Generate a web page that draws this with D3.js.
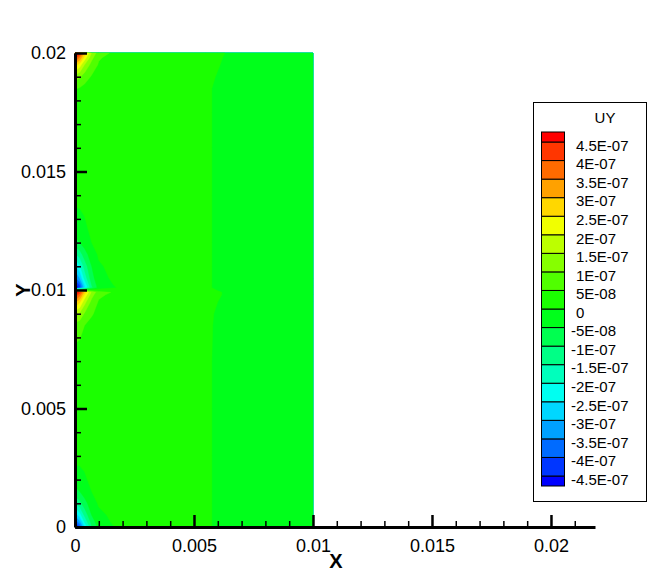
<!DOCTYPE html>
<html><head><meta charset="utf-8">
<script src="https://cdn.jsdelivr.net/npm/d3@7"></script>
<style>
body{margin:0;background:#fff}
svg{display:block}
text{font-family:"Liberation Sans",Arial,sans-serif;fill:#000}
</style>
</head><body>
<svg id="chart" width="665" height="578"></svg>
<script>
// ---------- data ----------
// mesh node positions (non-uniform, refined near the loaded edge)
const xNodes = [0, 0.0001, 0.0002, 0.0004, 0.0007, 0.001, 0.002, 0.003, 0.004, 0.005, 0.0055, 0.006, 0.0065, 0.007, 0.008, 0.009, 0.01];
const yNodes = [0, 0.0002, 0.0005, 0.001, 0.0015, 0.003, 0.005, 0.007, 0.0085, 0.009, 0.0095, 0.0098, 0.0099,
                0.0101, 0.0102, 0.0105, 0.011, 0.0115, 0.012, 0.014, 0.016, 0.0175, 0.0185, 0.019, 0.0195, 0.0198, 0.02];
// UY values in units of 1e-7, one row per yNode (from y=0 upward), one column per xNode
const valueUnit = 1e-7;
const uyRows = [
  [-4.8, -4.55, -4.05, -2.55, -1.05, -0.3, 0.15, 0.2, 0.2, 0.2, 0.2, -0.2, -0.2, -0.2, -0.2, -0.2, -0.2],
  [-3.8, -3.6, -3.2, -2.0, -0.8, -0.2, 0.2, 0.2, 0.2, 0.2, 0.2, -0.2, -0.2, -0.2, -0.2, -0.2, -0.2],
  [-2.7, -2.55, -2.25, -1.4, -0.5, -0.1, 0.2, 0.2, 0.2, 0.2, 0.2, -0.2, -0.2, -0.2, -0.2, -0.2, -0.2],
  [-1.4, -1.3, -1.15, -0.7, -0.2, 0.05, 0.2, 0.2, 0.2, 0.2, 0.2, -0.2, -0.2, -0.2, -0.2, -0.2, -0.2],
  [-0.6, -0.55, -0.5, -0.25, 0.0, 0.15, 0.2, 0.2, 0.2, 0.2, 0.2, -0.2, -0.2, -0.2, -0.2, -0.2, -0.2],
  [0.2, 0.2, 0.2, 0.2, 0.2, 0.2, 0.2, 0.2, 0.2, 0.2, 0.2, -0.2, -0.2, -0.2, -0.2, -0.2, -0.2],
  [0.2, 0.2, 0.2, 0.2, 0.2, 0.2, 0.2, 0.2, 0.2, 0.2, 0.2, -0.2, -0.2, -0.2, -0.2, -0.2, -0.2],
  [0.2, 0.2, 0.2, 0.2, 0.2, 0.2, 0.2, 0.2, 0.2, 0.2, 0.2, -0.2, -0.2, -0.2, -0.2, -0.2, -0.2],
  [0.8, 0.75, 0.7, 0.5, 0.35, 0.25, 0.2, 0.2, 0.2, 0.2, 0.2, -0.15, -0.2, -0.2, -0.2, -0.2, -0.2],
  [1.6, 1.5, 1.4, 0.95, 0.55, 0.35, 0.2, 0.2, 0.2, 0.2, 0.2, -0.1, -0.2, -0.2, -0.2, -0.2, -0.2],
  [3.0, 2.85, 2.6, 1.7, 0.85, 0.45, 0.2, 0.2, 0.2, 0.2, 0.2, 0.0, -0.2, -0.2, -0.2, -0.2, -0.2],
  [4.3, 4.1, 3.7, 2.45, 1.2, 0.6, 0.25, 0.2, 0.2, 0.2, 0.2, 0.1, -0.2, -0.2, -0.2, -0.2, -0.2],
  [5.0, 4.75, 4.3, 2.85, 1.4, 0.7, 0.3, 0.2, 0.2, 0.2, 0.2, 0.1, -0.2, -0.2, -0.2, -0.2, -0.2],
  [-5.0, -4.75, -4.25, -2.65, -1.1, -0.3, 0.1, 0.2, 0.2, 0.2, 0.2, -0.2, -0.2, -0.2, -0.2, -0.2, -0.2],
  [-4.7, -4.45, -4.0, -2.5, -1.0, -0.25, 0.15, 0.2, 0.2, 0.2, 0.2, -0.2, -0.2, -0.2, -0.2, -0.2, -0.2],
  [-3.5, -3.3, -3.0, -1.85, -0.7, -0.15, 0.2, 0.2, 0.2, 0.2, 0.2, -0.2, -0.2, -0.2, -0.2, -0.2, -0.2],
  [-2.5, -2.35, -2.1, -1.3, -0.5, -0.05, 0.2, 0.2, 0.2, 0.2, 0.2, -0.2, -0.2, -0.2, -0.2, -0.2, -0.2],
  [-1.5, -1.4, -1.25, -0.75, -0.2, 0.05, 0.2, 0.2, 0.2, 0.2, 0.2, -0.2, -0.2, -0.2, -0.2, -0.2, -0.2],
  [-0.6, -0.55, -0.5, -0.25, 0.0, 0.15, 0.2, 0.2, 0.2, 0.2, 0.2, -0.2, -0.2, -0.2, -0.2, -0.2, -0.2],
  [0.2, 0.2, 0.2, 0.2, 0.2, 0.2, 0.2, 0.2, 0.2, 0.2, 0.2, -0.2, -0.2, -0.2, -0.2, -0.2, -0.2],
  [0.2, 0.2, 0.2, 0.2, 0.2, 0.2, 0.2, 0.2, 0.2, 0.2, 0.2, -0.2, -0.2, -0.2, -0.2, -0.2, -0.2],
  [0.2, 0.2, 0.2, 0.2, 0.2, 0.2, 0.2, 0.2, 0.2, 0.2, 0.2, -0.2, -0.2, -0.2, -0.2, -0.2, -0.2],
  [0.5, 0.5, 0.45, 0.35, 0.25, 0.2, 0.2, 0.2, 0.2, 0.2, 0.2, -0.2, -0.2, -0.2, -0.2, -0.2, -0.2],
  [1.2, 1.15, 1.05, 0.75, 0.45, 0.3, 0.2, 0.2, 0.2, 0.2, 0.2, -0.05, -0.2, -0.2, -0.2, -0.2, -0.2],
  [2.6, 2.5, 2.25, 1.5, 0.8, 0.45, 0.2, 0.2, 0.2, 0.2, 0.2, 0.05, -0.2, -0.2, -0.2, -0.2, -0.2],
  [4.0, 3.8, 3.4, 2.3, 1.15, 0.55, 0.2, 0.2, 0.2, 0.2, 0.2, 0.1, -0.15, -0.2, -0.2, -0.2, -0.2],
  [5.2, 4.95, 4.45, 2.95, 1.45, 0.7, 0.25, 0.2, 0.2, 0.2, 0.2, 0.15, -0.1, -0.2, -0.2, -0.2, -0.2]
];
// contour levels (units of 1e-7) and their legend labels, bottom to top
const levels = [-4.5, -4, -3.5, -3, -2.5, -2, -1.5, -1, -0.5, 0, 0.5, 1, 1.5, 2, 2.5, 3, 3.5, 4, 4.5];
const levelLabels = ["-4.5E-07", "-4E-07", "-3.5E-07", "-3E-07", "-2.5E-07", "-2E-07", "-1.5E-07", "-1E-07", "-5E-08",
                     "0", "5E-08", "1E-07", "1.5E-07", "2E-07", "2.5E-07", "3E-07", "3.5E-07", "4E-07", "4.5E-07"];
// band colours, bottom (below lowest level) to top (above highest level)
const bandColors = ["#0000ff", "#0036ff", "#006bff", "#00a1ff", "#00d7ff", "#00fff1", "#00ffbc", "#00ff86", "#00ff50", "#00ff1b",
                    "#1bff00", "#50ff00", "#86ff00", "#bcff00", "#f1ff00", "#ffd700", "#ffa100", "#ff6b00", "#ff3600", "#ff0000"];
const xTicks = [0, 0.005, 0.01, 0.015, 0.02];
const xTickLabels = ["0", "0.005", "0.01", "0.015", "0.02"];
const yTicks = [0, 0.005, 0.01, 0.015, 0.02];
const yTickLabels = ["0", "0.005", "0.01", "0.015", "0.02"];
const xMinorTicks = d3.range(0, 22).map(i => i * 0.001).filter(v => !xTicks.some(t => Math.abs(t - v) < 1e-9));
const yMinorTicks = d3.range(0, 21).map(i => i * 0.001).filter(v => !yTicks.some(t => Math.abs(t - v) < 1e-9));
const legendTitle = "UY";

// ---------- drawing ----------
const svg = d3.select("#chart");
const x = d3.scaleLinear().domain([0, 0.02185]).range([75, 595]);
const y = d3.scaleLinear().domain([0, 0.02]).range([527, 53]);

const nx = xNodes.length, ny = yNodes.length;
const values = uyRows.flat().map(v => v * valueUnit);
const minVal = d3.min(values);
const thresholds = [minVal - 1].concat(levels.map(l => l * valueUnit));

function nodeAt(nodes, c) {
  const n = nodes.length;
  const u = Math.max(0, Math.min(n - 1, c - 0.5));
  const i = Math.min(Math.floor(u), n - 2);
  const f = u - i;
  return nodes[i] + f * (nodes[i + 1] - nodes[i]);
}
const proj = d3.geoTransform({
  point: function(px, py) { this.stream.point(x(nodeAt(xNodes, px)), y(nodeAt(yNodes, py))); }
});
const path = d3.geoPath(proj);
const contours = d3.contours().size([nx, ny]).thresholds(thresholds)(values);

svg.append("g").selectAll("path").data(contours).join("path")
  .attr("d", path)
  .attr("fill", (d, i) => bandColors[i])
  .attr("stroke", (d, i) => bandColors[i])
  .attr("stroke-width", 0.4);

// axes
const fontSize = 18;
const xAxisG = svg.append("g").attr("transform", `translate(0,${y(0)})`);
xAxisG.call(d3.axisBottom(x).tickValues(xMinorTicks).tickSize(-6).tickSizeOuter(0).tickFormat(""));
xAxisG.select(".domain").remove();
xAxisG.selectAll("line").attr("stroke", "#000").attr("stroke-width", 1.5);
const xMaj = svg.append("g").attr("transform", `translate(0,${y(0)})`)
  .call(d3.axisBottom(x).tickValues(xTicks).tickSize(-12).tickSizeOuter(0).tickPadding(12)
        .tickFormat((d, i) => xTickLabels[i]));
xMaj.select(".domain").attr("stroke", "#000").attr("stroke-width", 3);
xMaj.selectAll("line").attr("stroke", "#000").attr("stroke-width", 2.5);
xMaj.selectAll("text").attr("font-size", fontSize).attr("font-family", "Liberation Sans, Arial, sans-serif").attr("fill", "#000");

const yAxisG = svg.append("g").attr("transform", `translate(${x(0)},0)`);
yAxisG.call(d3.axisLeft(y).tickValues(yMinorTicks).tickSize(-6).tickSizeOuter(0).tickFormat(""));
yAxisG.select(".domain").remove();
yAxisG.selectAll("line").attr("stroke", "#000").attr("stroke-width", 1.5);
const yMaj = svg.append("g").attr("transform", `translate(${x(0)},0)`)
  .call(d3.axisLeft(y).tickValues(yTicks).tickSize(-12).tickSizeOuter(0).tickPadding(9)
        .tickFormat((d, i) => yTickLabels[i]));
yMaj.select(".domain").attr("stroke", "#000").attr("stroke-width", 3);
yMaj.selectAll("line").attr("stroke", "#000").attr("stroke-width", 2.5);
yMaj.selectAll("text").attr("font-size", fontSize).attr("font-family", "Liberation Sans, Arial, sans-serif").attr("fill", "#000");

// axis titles
svg.append("text").attr("x", 336).attr("y", 568).attr("text-anchor", "middle")
  .attr("font-size", 20).attr("font-weight", "bold").text("X");
svg.append("text").attr("transform", `translate(30,${y(0.01)}) rotate(-90)`).attr("text-anchor", "middle")
  .attr("font-size", 20).attr("font-weight", "bold").text("Y");

// legend
const lg = svg.append("g");
lg.append("rect").attr("x", 533.5).attr("y", 102.5).attr("width", 113).attr("height", 399)
  .attr("fill", "#fff").attr("stroke", "#000").attr("stroke-width", 1);
lg.append("text").attr("x", 605).attr("y", 118).attr("dy", "0.35em").attr("text-anchor", "middle")
  .attr("font-size", 15).text(legendTitle);
const ly = d3.scaleLinear().domain([levels[0], levels[levels.length - 1]]).range([476, 142]);
const capH = 10;
const bandEdges = [ly(levels[0]) + capH].concat(levels.map(l => ly(l))).concat([ly(levels[levels.length - 1]) - capH]);
lg.selectAll("rect.sw").data(bandColors).join("rect").attr("class", "sw")
  .attr("x", 541.5).attr("width", 23)
  .attr("y", (d, i) => bandEdges[i + 1])
  .attr("height", (d, i) => bandEdges[i] - bandEdges[i + 1])
  .attr("fill", d => d).attr("stroke", "#000").attr("stroke-width", 1);
lg.selectAll("text.lb").data(levels).join("text").attr("class", "lb")
  .attr("x", (d, i) => levelLabels[i].startsWith("-") ? 571 : 576)
  .attr("y", d => ly(d) + 3.5).attr("dy", "0.35em")
  .attr("font-size", 15).text((d, i) => levelLabels[i]);
</script>
</body></html>
